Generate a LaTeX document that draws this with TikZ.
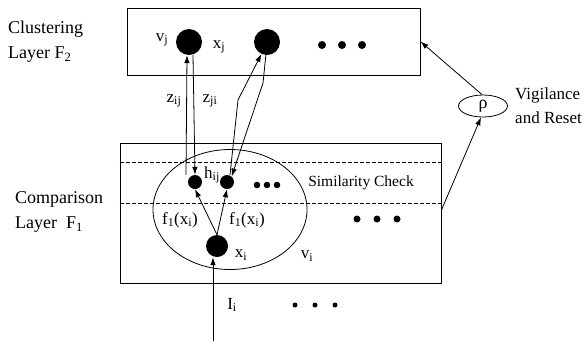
\documentclass[tikz,border=0pt]{standalone}
\usepackage{fontspec}
\setmainfont{Liberation Serif}
\usetikzlibrary{arrows.meta,calc,positioning,shapes.geometric}
\tikzset{
  layer/.style={draw, line width=0.9pt, inner sep=0pt},
  neuron/.style={circle, fill=black, inner sep=0pt},
  ring/.style={draw, ellipse, line width=0.8pt, inner sep=0pt},
  lbl/.style={font=\fontsize{17}{20}\selectfont, inner sep=1pt},
  sidelbl/.style={font=\fontsize{18}{25}\selectfont, align=left, anchor=west, inner sep=0pt},
  link/.style={-{Latex[length=8pt,width=5.5pt]}, line width=0.8pt},
  divider/.style={line width=0.6pt, dash pattern=on 4pt off 2pt}
}
\begin{document}
\begin{tikzpicture}[x=1pt,y=-1pt]
\useasboundingbox (0,0) rectangle (585,341);
\node[layer, minimum width=293pt, minimum height=67pt] (toplayer) at (273.5,41.5) {};
\node[layer, minimum width=321pt, minimum height=140pt] (botlayer) at (280.5,213) {};
\draw[divider] (botlayer.west |- 0,162) -- (botlayer.east |- 0,162);
\draw[divider] (botlayer.west |- 0,203) -- (botlayer.east |- 0,203);
\node[ring, minimum width=154pt, minimum height=120pt] (unit) at (230,209.5) {};
\node[neuron, minimum size=26pt] (vj) at (189,42) {};
\node[neuron, minimum size=26pt] (vk) at (267,42) {};
\node[neuron, minimum size=14pt] (hij) at (195,182) {};
\node[neuron, minimum size=14pt] (hik) at (227,182) {};
\node[neuron, minimum size=22pt] (xi) at (217,246) {};
\node[ring, minimum width=49pt, minimum height=22pt, font=\fontsize{18}{20}\selectfont] (rho) at (483,106) {ρ};
\foreach \x in {322,342,362} \fill (\x,45) circle (4pt);
\foreach \x in {257,267,277} \fill (\x,185) circle (3.3pt);
\foreach \x in {357,377,397} \fill (\x,219) circle (3.5pt);
\foreach \x in {295,315,335} \fill (\x,305) circle (2.5pt);
\coordinate (in) at (213,341);
\draw[link] (in) -- (in |- xi.south);
\draw[link] (xi.north) -- (hij.south);
\draw[link] (xi.north) -- (hik.south);
\draw[link] ([xshift=-9pt]hij.north) -- ([xshift=-2pt]vj.south);
\draw[link] ([xshift=4pt]vj.south) -- (hij.north);
\draw[link] ([xshift=3pt]hik.north) -- (238,100) -- (vk.-115);
\draw[link] (vk.-95) -- (263,83) -- (hik.50);
\draw[link] ([yshift=3pt]botlayer.east) -- (rho.-100);
\draw[link] (rho.95) -- (toplayer.east);
\node[lbl] (vjlbl) at (162,40) {v\textsubscript{j}};
\node[lbl] (xjlbl) at (219,47) {x\textsubscript{j}};
\node[lbl] (zij) at (174,101) {z\textsubscript{ij}};
\node[lbl] (zji) at (210,101) {z\textsubscript{ji}};
\node[lbl] (hlbl) at (212,175) {h\textsubscript{ij}};
\node[lbl] (fleft) at (180,220) {f\textsubscript{1}(x\textsubscript{i})};
\node[lbl] (fright) at (247,220) {f\textsubscript{1}(x\textsubscript{i})};
\node[lbl] (xilbl) at (241,255) {x\textsubscript{i}};
\node[lbl] (vilbl) at (307,256) {v\textsubscript{i}};
\node[lbl] (Ii) at (232,305) {I\textsubscript{i}};
\node[font=\fontsize{15.5}{18}\selectfont] (simlbl) at (361,183) {Similarity Check};
\node[sidelbl] (f2lbl) at (8,42) {Clustering\\Layer F\textsubscript{2}};
\node[sidelbl] (f1lbl) at (15,212) {Comparison\\Layer\ \ F\textsubscript{1}};
\node[sidelbl, font=\fontsize{17}{24}\selectfont] (vlbl) at (515,106) {Vigilance\\and Reset};
\end{tikzpicture}
\end{document}
